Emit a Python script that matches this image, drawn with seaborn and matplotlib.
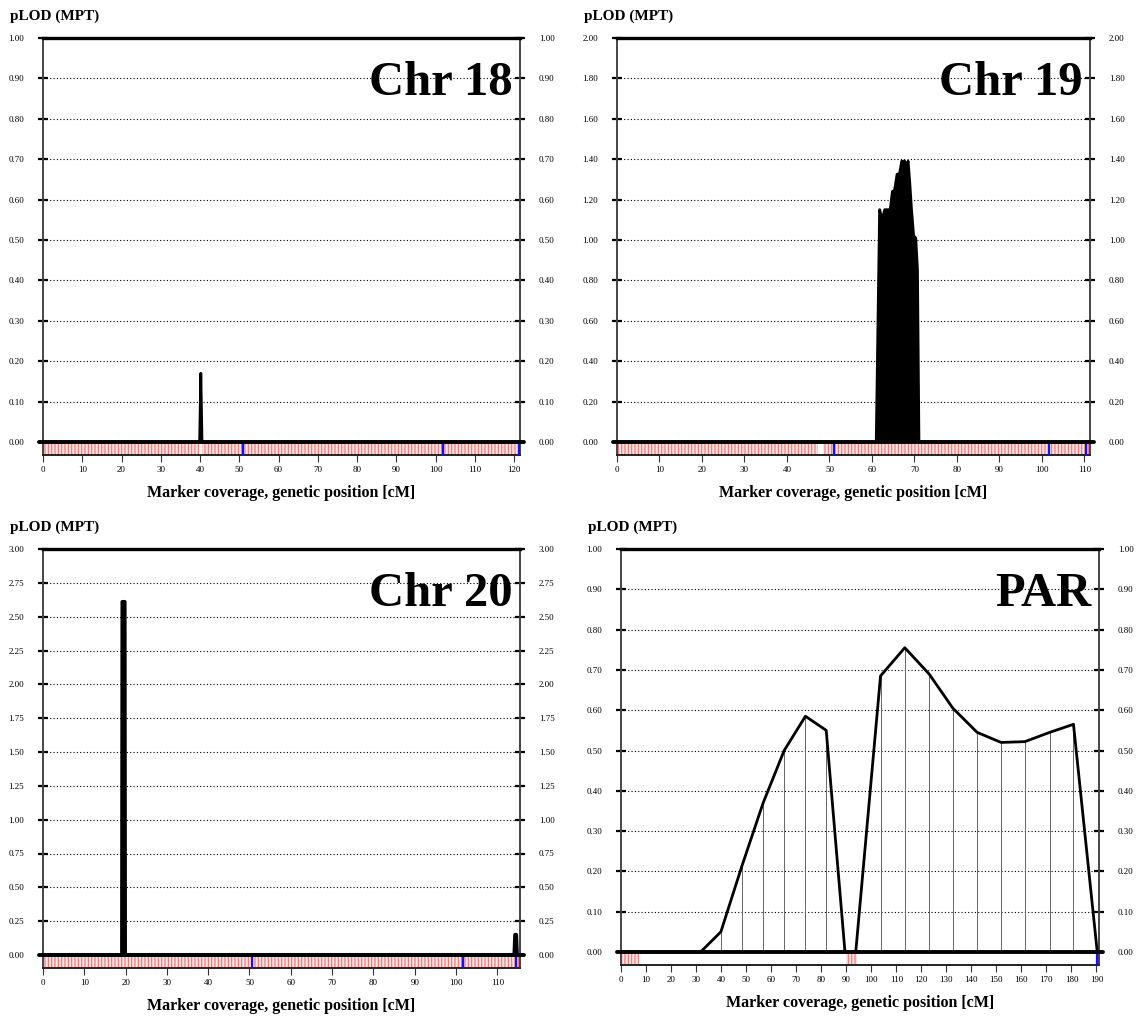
import numpy as np
import pandas as pd
import seaborn as sns
import matplotlib.pyplot as plt
from matplotlib.ticker import FixedLocator, FormatStrFormatter

# ---- data ----
chr18_pos = [0, 39.9, 40.2, 40.5, 121.5]
chr18_lod = [0, 0, 0.17, 0, 0]

chr19_pos = [0, 61.0, 61.8, 62.4, 63.0, 64.3, 64.8, 65.3, 65.9, 66.5, 67.0,
             67.7, 68.1, 68.5, 68.9, 69.3, 69.8, 70.3, 70.7, 71.05, 111.3]
chr19_lod = [0, 0, 1.15, 1.10, 1.15, 1.15, 1.24, 1.245, 1.325, 1.33, 1.39,
             1.39, 1.36, 1.39, 1.28, 1.15, 1.02, 1.01, 0.85, 0, 0]

chr20_pos = [0, 19.1, 19.2, 19.8, 19.9, 114.1, 114.3, 114.6, 114.8, 115.5]
chr20_lod = [0, 0, 2.61, 2.61, 0, 0, 0.15, 0.15, 0, 0]

par_pos = [0, 31.8, 39.9, 48.4, 56.8, 65.2, 73.7, 82.0, 89.5, 93.8, 103.7,
           113.4, 123.1, 132.6, 142.3, 151.9, 161.4, 171.3, 180.8, 190.3]
par_lod = [0, 0, 0.05, 0.215, 0.37, 0.50, 0.585, 0.55, 0, 0, 0.685,
           0.755, 0.69, 0.605, 0.545, 0.52, 0.522, 0.545, 0.565, 0]

# marker coverage intervals (red strip) and blue boundary marks
chr18_cov = [(0, 39.8), (40.6, 121.5)]
chr19_cov = [(0, 47.3), (48.5, 111.3)]
chr20_cov = [(0, 115.5)]
par_cov = [(0, 7.0), (90.0, 94.5)]

chr18_blue = [51.0, 101.8, 121.2]
chr19_blue = [51.1, 101.7, 110.4]
chr20_blue = [50.7, 101.6, 114.6]
par_blue = [190.4]

panels = [
    dict(name="Chr 18", pos=chr18_pos, lod=chr18_lod, cov=chr18_cov, blue=chr18_blue,
         xmax=121.5, ymax=1.0, ystep=0.1, xstep=10, fill=False, stems=False,
         rect=(43, 38, 520, 455)),
    dict(name="Chr 19", pos=chr19_pos, lod=chr19_lod, cov=chr19_cov, blue=chr19_blue,
         xmax=111.3, ymax=2.0, ystep=0.2, xstep=10, fill=True, stems=False,
         rect=(617, 38, 1090, 455)),
    dict(name="Chr 20", pos=chr20_pos, lod=chr20_lod, cov=chr20_cov, blue=chr20_blue,
         xmax=115.5, ymax=3.0, ystep=0.25, xstep=10, fill=False, stems=False,
         rect=(43, 549, 520, 968)),
    dict(name="PAR", pos=par_pos, lod=par_lod, cov=par_cov, blue=par_blue,
         xmax=191.0, ymax=1.0, ystep=0.1, xstep=10, fill=False, stems=True,
         rect=(621, 549, 1099, 965)),
]

sns.set_theme(style="white")
plt.rcParams['font.family'] = ['Liberation Serif', 'DejaVu Serif']
plt.rcParams['hatch.linewidth'] = 0.8
for key in ['text.color', 'axes.labelcolor', 'xtick.color', 'ytick.color']:
    plt.rcParams[key] = 'black'

W, H = 1144, 1016
fig = plt.figure(figsize=(W / 100, H / 100), dpi=100)
STRIP = 13  # px height of the marker strip

for p in panels:
    x0, y0, x1, y1 = p["rect"]
    ax = fig.add_axes([x0 / W, 1 - y1 / H, (x1 - x0) / W, (y1 - y0) / H])
    ax.set_facecolor("white")
    ymax = p["ymax"]
    s = ymax * STRIP / (y1 - y0 - STRIP)
    ax.set_xlim(0, p["xmax"])
    ax.set_ylim(-s, ymax)

    df = pd.DataFrame({"pos": p["pos"], "lod": p["lod"]})
    if p["fill"]:
        ax.fill_between(df["pos"], 0, df["lod"], color="black", lw=0)
    if p["stems"]:
        nz = df[df["lod"] > 0]
        ax.vlines(nz["pos"], 0, nz["lod"], color="#666666", lw=0.7, zorder=2)
    sns.lineplot(data=df, x="pos", y="lod", ax=ax, color="black",
                 linewidth=2.6 if p["name"] == "Chr 20" else 2.0,
                 estimator=None, sort=False, zorder=3)

    # marker strip
    for a, b in p["cov"]:
        ax.fill_between([a, b], -s, 0, facecolor="#fde4e4", edgecolor="#f07070",
                        hatch="|||||", lw=0, zorder=1)
    ax.vlines(p["blue"], -s, 0, color="#1010ff", lw=1.6, zorder=4)

    ax.axhline(0, xmin=-0.008, xmax=1.008, color="black", lw=2.8,
               clip_on=False, zorder=5)

    yt = np.round(np.arange(0, ymax + 1e-9, p["ystep"]), 2)
    ax.yaxis.set_major_locator(FixedLocator(yt))
    ax.yaxis.set_major_formatter(FormatStrFormatter("%.2f"))
    ax.xaxis.set_major_locator(FixedLocator(np.arange(0, p["xmax"], p["xstep"])))
    ax.xaxis.set_major_formatter(FormatStrFormatter("%d"))
    for t in yt[1:-1]:
        ax.axhline(t, color="black", lw=0.8, ls=(0, (1, 2)), zorder=0)

    ax.tick_params(axis="y", which="major", left=True, right=True,
                   labelleft=True, labelright=True, direction="inout",
                   length=7, width=1.6, color="black", labelsize=6.5, pad=10)
    ax.tick_params(axis="x", which="major", bottom=True, direction="out",
                   length=5, width=0.8, color="#333333", labelsize=6.5, pad=3)
    ax.set_xlabel("Marker coverage, genetic position [cM]", fontsize=11.5,
                  fontweight="bold", labelpad=8)
    ax.set_ylabel("")

    for side in ["left", "right"]:
        ax.spines[side].set_color("#444444")
        ax.spines[side].set_linewidth(1.4)
    ax.spines["top"].set_color("black")
    ax.spines["top"].set_linewidth(2.4)
    ax.spines["bottom"].set_color("#222222")
    ax.spines["bottom"].set_linewidth(1.4)

    ax.text(0.985, 0.945, p["name"], transform=ax.transAxes, ha="right", va="top",
            fontsize=35, fontweight="bold", color="black", zorder=6)
    fig.text((x0 - 33) / W, 1 - (y0 - 22) / H, "pLOD (MPT)", ha="left",
             va="center", fontsize=11, fontweight="bold", color="black")

fig.savefig("out.png", dpi=100, facecolor="white")
